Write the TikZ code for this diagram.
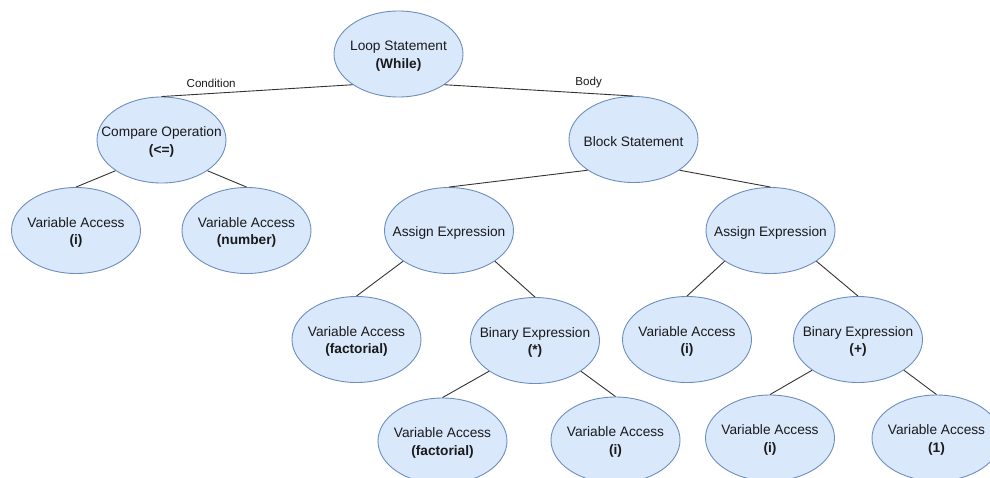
\documentclass[tikz,border=0pt]{standalone}
\usepackage{fontspec}
\setmainfont{Liberation Sans}
\usetikzlibrary{shapes.geometric}
\definecolor{fillb}{HTML}{DAE8FC}
\definecolor{strokeb}{HTML}{6C8EBF}
\definecolor{inkc}{HTML}{1A1A1A}
\begin{document}
\begin{tikzpicture}[x=1pt,y=-1pt,
  ell/.style={ellipse, draw=strokeb, fill=fillb, line width=0.9pt, minimum width=129pt, minimum height=86pt, inner sep=0pt},
  txt/.style={align=center, font=\fontsize{13.7}{17.6}\selectfont, text=inkc, inner sep=0pt, yshift=-2pt},
  conn/.style={draw=black!80, line width=0.9pt},
  lbl/.style={font=\fontsize{11.6}{13}\selectfont, text=inkc, inner sep=0pt}]
\useasboundingbox (0,0) rectangle (990,477);
\clip (0,0) rectangle (990,477);
\node[ell, label={[txt]center:Loop Statement\\\textbf{(While)}}] (loop) at (398.5,54) {};
\node[ell, label={[txt]center:Compare Operation\\\textbf{(<=)}}] (cmp) at (161.5,140) {};
\node[ell, label={[txt]center:Variable Access\\\textbf{(i)}}] (vi1) at (76,230.5) {};
\node[ell, label={[txt]center:Variable Access\\\textbf{(number)}}] (vnum) at (246.5,230.5) {};
\node[ell, label={[txt]center:Block Statement}] (blk) at (633.5,139.5) {};
\node[ell, label={[txt]center:Assign Expression}] (asl) at (449,230.5) {};
\node[ell, label={[txt]center:Assign Expression}] (asr) at (770.5,230.5) {};
\node[ell, label={[txt]center:Variable Access\\\textbf{(factorial)}}] (vfac1) at (356.5,339.5) {};
\node[ell, label={[txt]center:Binary Expression\\\textbf{(*)}}] (bmul) at (535,340.5) {};
\node[ell, label={[txt]center:Variable Access\\\textbf{(i)}}] (vi2) at (687,339.5) {};
\node[ell, label={[txt]center:Binary Expression\\\textbf{(+)}}] (bplus) at (858,339.5) {};
\node[ell, label={[txt]center:Variable Access\\\textbf{(factorial)}}] (vfac2) at (442.5,441) {};
\node[ell, label={[txt]center:Variable Access\\\textbf{(i)}}] (vi3) at (615.5,440) {};
\node[ell, label={[txt]center:Variable Access\\\textbf{(i)}}] (vi4) at (770,438) {};
\node[ell, label={[txt]center:Variable Access\\\textbf{(1)}}] (vone) at (936.5,438) {};
\draw[conn] (loop.south west) -- node[lbl, pos=0.74, yshift=10.5pt] (lcond) {Condition} (cmp.north);
\draw[conn] (loop.south east) -- node[lbl, pos=0.763, yshift=10.5pt] (lbody) {Body} (blk.north);
\draw[conn] (cmp.south west) -- (vi1.north);
\draw[conn] (cmp.south east) -- (vnum.north);
\draw[conn] (blk.south west) -- (asl.north);
\draw[conn] (blk.south east) -- (asr.north);
\draw[conn] (asl.south west) -- (vfac1.north);
\draw[conn] (asl.south east) -- (bmul.north);
\draw[conn] (asr.south west) -- (vi2.north);
\draw[conn] (asr.south east) -- (bplus.north);
\draw[conn] (bmul.south west) -- (vfac2.north);
\draw[conn] (bmul.south east) -- (vi3.north);
\draw[conn] (bplus.south west) -- (vi4.north);
\draw[conn] (bplus.south east) -- (vone.north);
\end{tikzpicture}
\end{document}
